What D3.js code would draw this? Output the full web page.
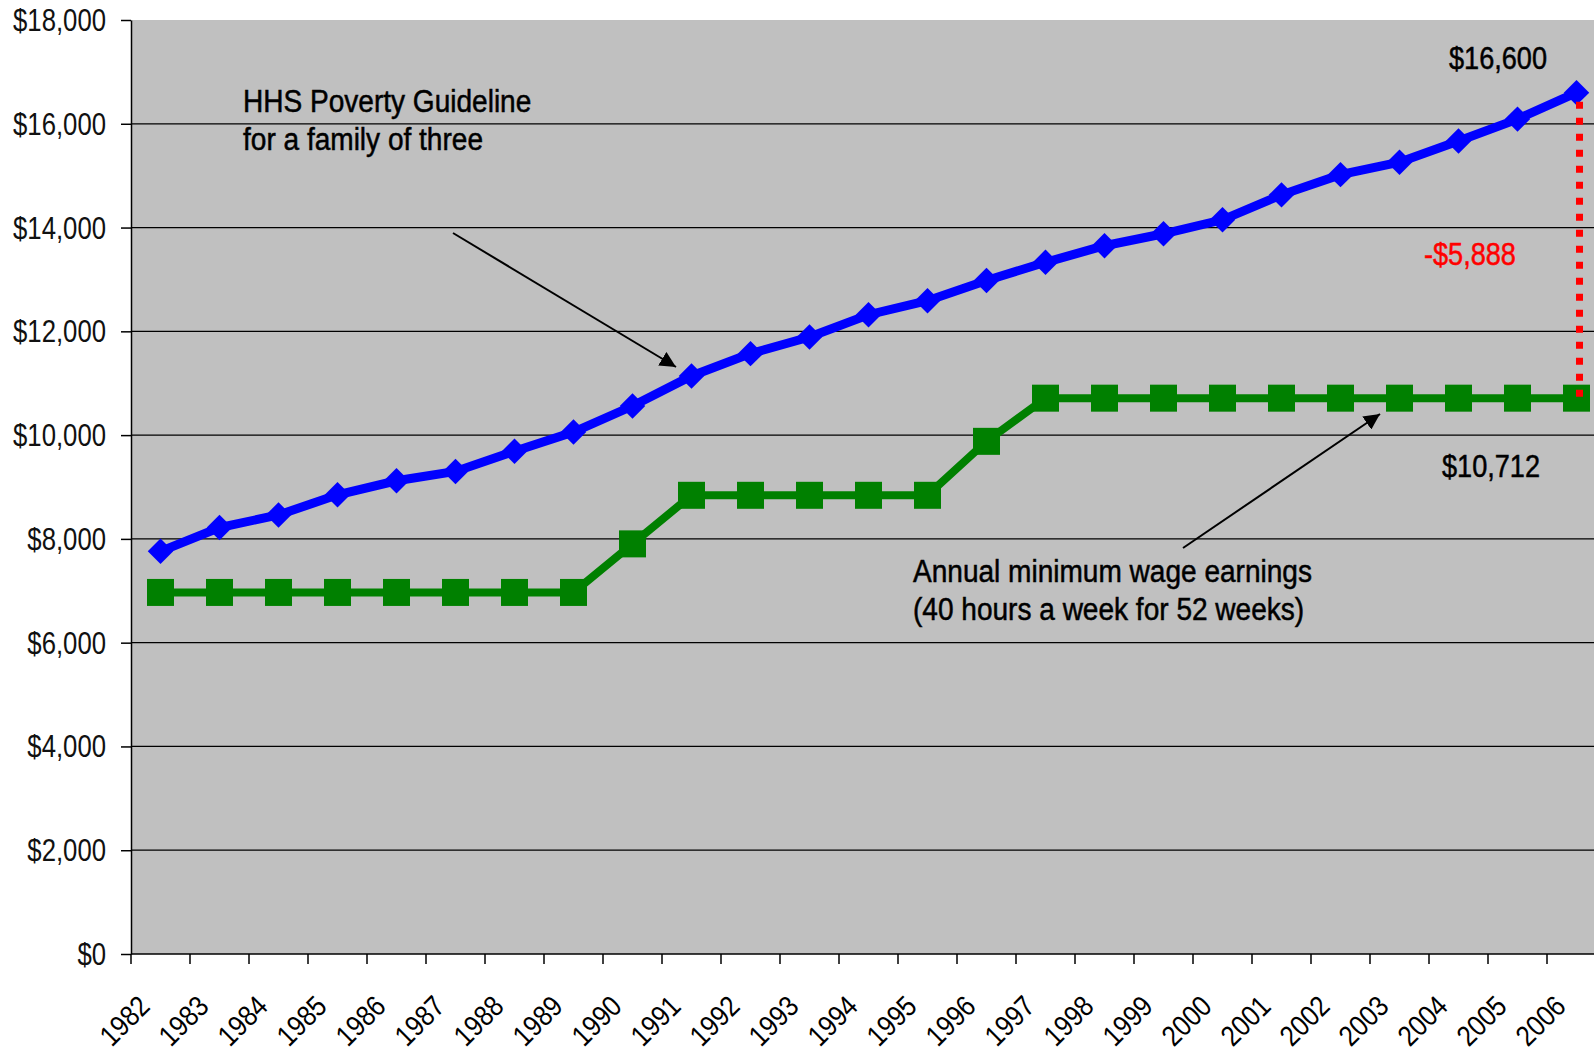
<!DOCTYPE html>
<html><head><meta charset="utf-8">
<script src="https://cdn.jsdelivr.net/npm/d3@7"></script>
<style>
body{margin:0;background:#fff;}
text{font-family:"Liberation Sans",Arial,sans-serif;}
</style>
</head><body>
<svg id="c" width="1594" height="1052"></svg>
<script>
const years = ["1982","1983","1984","1985","1986","1987","1988","1989","1990","1991","1992","1993","1994","1995","1996","1997","1998","1999","2000","2001","2002","2003","2004","2005","2006"];
const poverty = [7760,8220,8460,8850,9120,9300,9690,10060,10560,11140,11570,11890,12320,12590,12980,13330,13650,13880,14150,14630,15020,15260,15670,16090,16600];
const minWage = [6968,6968,6968,6968,6968,6968,6968,6968,7904,8840,8840,8840,8840,8840,9880,10712,10712,10712,10712,10712,10712,10712,10712,10712,10712];
const yTicks = [0,2000,4000,6000,8000,10000,12000,14000,16000,18000];

const svg = d3.select("#c");
const x = d3.scaleBand().domain(years).range([131,1606]);
const y = d3.scaleLinear().domain([0,18000]).range([954,20]);
const bw = x.bandwidth();
const cx = d => x(d) + bw/2;

// plot background
svg.append("rect").attr("x",131).attr("y",y(18000)).attr("width",1606-131).attr("height",y(0)-y(18000)).attr("fill","#c0c0c0");

// gridlines
svg.append("g").selectAll("line").data(yTicks.filter(d=>d>0&&d<18000)).join("line")
  .attr("x1",131).attr("x2",1606).attr("y1",d=>y(d)).attr("y2",d=>y(d))
  .attr("stroke","#000").attr("stroke-width",1.2);

// y axis
const yAxis = d3.axisLeft(y).tickValues(yTicks).tickSize(10).tickSizeOuter(0).tickFormat(()=>"");
const gy = svg.append("g").attr("transform","translate(131,0)").call(yAxis);
gy.select(".domain").attr("stroke","#000").attr("stroke-width",1.5);
gy.selectAll(".tick line").attr("stroke","#000").attr("stroke-width",1.5);
svg.append("g").selectAll("text").data(yTicks).join("text")
  .attr("transform",d=>`translate(106,${y(d)+11}) scale(0.83,1)`)
  .attr("text-anchor","end").attr("font-size",31).attr("fill","#111")
  .text(d=>"$"+d3.format(",")(d));

// x axis
svg.append("line").attr("x1",131).attr("x2",1606).attr("y1",y(0)).attr("y2",y(0)).attr("stroke","#000").attr("stroke-width",1.5);
svg.append("g").selectAll("line").data(years).join("line")
  .attr("x1",d=>x(d)).attr("x2",d=>x(d)).attr("y1",y(0)).attr("y2",y(0)+10)
  .attr("stroke","#000").attr("stroke-width",1.5);
svg.append("g").selectAll("text").data(years).join("text")
  .attr("transform",d=>`translate(${cx(d)-9},1008) rotate(-45) scale(0.87,1)`)
  .attr("text-anchor","end").attr("font-size",29).attr("fill","#000").text(d=>d);

// lines
const line = d3.line().x((d,i)=>cx(years[i])).y(d=>y(d));
svg.append("path").attr("d",line(minWage)).attr("fill","none").attr("stroke","#008000").attr("stroke-width",8).attr("stroke-linejoin","miter");
svg.append("path").attr("d",line(poverty)).attr("fill","none").attr("stroke","#0000ff").attr("stroke-width",9).attr("stroke-linejoin","miter");

// markers
svg.append("g").selectAll("rect").data(minWage).join("rect")
  .attr("x",(d,i)=>cx(years[i])-13.5).attr("y",d=>y(d)-13.5).attr("width",27).attr("height",27).attr("fill","#008000");
svg.append("g").selectAll("rect").data(poverty).join("rect")
  .attr("x",-9).attr("y",-9).attr("width",18).attr("height",18).attr("fill","#0000ff")
  .attr("transform",(d,i)=>`translate(${cx(years[i])},${y(d)}) rotate(45)`);

// gap line
const last = years.length-1;
svg.append("line").attr("x1",cx(years[last])+3).attr("x2",cx(years[last])+3)
  .attr("y1",y(poverty[last])+9).attr("y2",y(minWage[last])-1)
  .attr("stroke","#ff0000").attr("stroke-width",7).attr("stroke-dasharray","7,9");

// arrows
const defs = svg.append("defs");
defs.append("marker").attr("id","ah").attr("viewBox","0 0 10 10").attr("refX",10).attr("refY",5)
  .attr("markerWidth",16).attr("markerHeight",16).attr("markerUnits","userSpaceOnUse").attr("orient","auto")
  .append("path").attr("d","M0,0 L10,5 L0,10 Z").attr("fill","#000");
svg.append("line").attr("x1",453).attr("y1",233).attr("x2",676).attr("y2",367)
  .attr("stroke","#000").attr("stroke-width",2).attr("marker-end","url(#ah)");
svg.append("line").attr("x1",1183).attr("y1",548).attr("x2",1380).attr("y2",414)
  .attr("stroke","#000").attr("stroke-width",2).attr("marker-end","url(#ah)");

// annotations
const ann = (t,xx,yy,col,sx)=>svg.append("text")
  .attr("transform",`translate(${xx},${yy}) scale(${sx||0.905},1)`)
  .attr("font-size",31).attr("fill",col||"#000")
  .attr("stroke",col||"#000").attr("stroke-width",0.5).text(t);
ann("HHS Poverty Guideline",243,112);
ann("for a family of three",243,150);
ann("Annual minimum wage earnings",913,582);
ann("(40 hours a week for 52 weeks)",913,620);
ann("$16,600",1449,69,null,0.875);
ann("-$5,888",1424,265,"#ff0000",0.875);
ann("$10,712",1442,477,null,0.875);
</script>
</body></html>
